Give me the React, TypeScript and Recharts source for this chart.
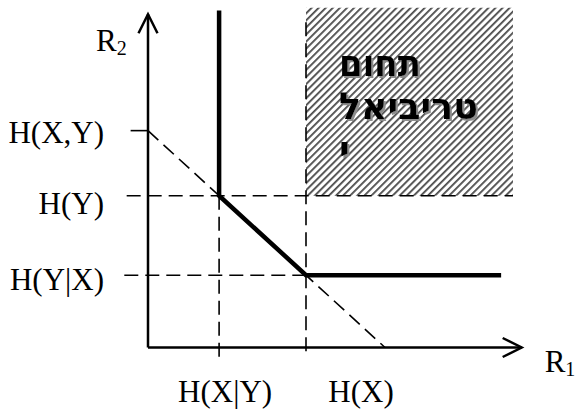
import { LineChart, Line, XAxis, YAxis, ReferenceLine, ReferenceArea } from 'recharts';

// Slepian-Wolf style rate region, values in bits
const H_X_given_Y = 0.9;
const H_X = 2.0;
const H_Y_given_X = 1.0;
const H_Y = 2.1;
const H_XY = 3.0;

const xTicks = [H_X_given_Y, H_X];
const xTickLabels = ['H(X|Y)', 'H(X)'];
const yTicks = [H_Y_given_X, H_Y, H_XY];
const yTickLabels = ['H(Y|X)', 'H(Y)', 'H(X,Y)'];

// axis extents (arrow tips)
const r1Max = 4.73;
const r2Max = 4.61;

// achievable-region corner path
const boundary = [
  { r1: H_X_given_Y, r2: 4.66 },
  { r1: H_X_given_Y, r2: H_Y },
  { r1: H_X, r2: H_Y_given_X },
  { r1: 4.47, r2: H_Y_given_X },
];

// trivial region (both rates above marginal entropies)
const trivialRight = 4.62;
const trivialTop = 4.7;
const trivialText = ['תחום', 'טריביאל', 'י'];

const SERIF = '"Liberation Serif", "Times New Roman", serif';
const DASH = '14 7';

function YTick({ x, y, payload }: any) {
  const i = yTicks.indexOf(payload.value);
  const nudge = [15, 18, 12][i];
  return (
    <text x={x} y={y + nudge} textAnchor="end" fontFamily={SERIF} fontSize={31} fill="#000">
      {yTickLabels[i]}
    </text>
  );
}

function XTick({ x, y, payload }: any) {
  const i = xTicks.indexOf(payload.value);
  const dx = [6, 55][i];
  return (
    <text x={x + dx} y={y + 54.5} textAnchor="middle" fontFamily={SERIF} fontSize={31} fill="#000">
      {xTickLabels[i]}
    </text>
  );
}

function AxisName({ viewBox, name, sub, dx, dy }: any) {
  return (
    <text x={viewBox.x + viewBox.width + dx} y={viewBox.y + dy} fontFamily={SERIF} fontSize={31} fill="#000">
      {name}
      <tspan fontSize={20} dy={4}>
        {sub}
      </tspan>
    </text>
  );
}

// line widths of the Hebrew caption, last line is a single letter
const captionWidths = [82, 139, undefined];

function TrivialLabel({ viewBox }: any) {
  const x = viewBox.x + 33;
  return (
    <g
      fontFamily='"DejaVu Sans", sans-serif'
      fontWeight="bold"
      fontSize={37}
      fill="#000"
      filter="url(#captionShadow)"
    >
      {trivialText.map((t, i) => (
        <text
          key={i}
          x={x}
          y={viewBox.y + 68 + 43 * i}
          textLength={captionWidths[i]}
          lengthAdjust={captionWidths[i] ? 'spacingAndGlyphs' : undefined}
        >
          {t}
        </text>
      ))}
    </g>
  );
}

export default function App() {
  return (
    <div style={{ position: 'absolute', left: 0, top: 0, background: '#fff' }}>
      <LineChart
        width={575}
        height={416}
        data={boundary}
        margin={{ top: 0.5, right: 32, bottom: 38.5, left: 48 }}
      >
        <defs>
          <marker
            id="openArrow"
            viewBox="-24 -14 28 28"
            refX={0}
            refY={0}
            markerWidth={28}
            markerHeight={28}
            markerUnits="userSpaceOnUse"
            orient="auto"
          >
            <path d="M-19,-9.5 L0,0 L-19,9.5" fill="none" stroke="#000" strokeWidth={2.5} />
          </marker>
          <pattern id="hatch" width={5} height={5} patternUnits="userSpaceOnUse" patternTransform="rotate(45)">
            <rect width={5} height={5} fill="#fff" />
            <rect width={1.8} height={5} fill="#4a4a4a" />
          </pattern>
          <filter id="captionShadow" x="-10%" y="-10%" width="130%" height="130%">
            <feDropShadow dx={2} dy={2} stdDeviation={0.4} floodColor="#8c8c8c" floodOpacity={1} />
          </filter>
        </defs>
        <XAxis
          dataKey="r1"
          type="number"
          domain={[0, 5]}
          ticks={xTicks}
          axisLine={false}
          tickLine={false}
          tickSize={0}
          tickMargin={0}
          height={30}
          tick={<XTick />}
        />
        <YAxis
          dataKey="r2"
          type="number"
          domain={[0, 4.8]}
          ticks={yTicks}
          axisLine={false}
          tickLine={false}
          tickSize={0}
          tickMargin={44}
          width={100}
          tick={<YTick />}
        />

        <ReferenceArea
          x1={H_X}
          x2={trivialRight}
          y1={H_Y}
          y2={trivialTop}
          fill="url(#hatch)"
          fillOpacity={1}
          stroke="none"
          ifOverflow="visible"
          label={<TrivialLabel />}
        />

        {/* guide lines */}
        <ReferenceLine
          segment={[{ x: -0.27, y: H_Y }, { x: trivialRight, y: H_Y }]}
          stroke="#000"
          strokeWidth={1.6}
          strokeDasharray={DASH}
          ifOverflow="visible"
        />
        <ReferenceLine
          segment={[{ x: -0.3, y: H_Y_given_X }, { x: H_X, y: H_Y_given_X }]}
          stroke="#000"
          strokeWidth={1.6}
          strokeDasharray={DASH}
          ifOverflow="visible"
        />
        <ReferenceLine
          segment={[{ x: H_X_given_Y, y: H_Y }, { x: H_X_given_Y, y: -0.14 }]}
          stroke="#000"
          strokeWidth={1.6}
          strokeDasharray={DASH}
          ifOverflow="visible"
        />
        <ReferenceLine
          segment={[{ x: H_X, y: 4.5 }, { x: H_X, y: -0.14 }]}
          stroke="#000"
          strokeWidth={1.6}
          strokeDasharray={DASH}
          ifOverflow="visible"
        />
        <ReferenceLine
          segment={[{ x: 0, y: H_XY }, { x: H_XY, y: 0 }]}
          stroke="#000"
          strokeWidth={1.6}
          strokeDasharray={DASH}
          ifOverflow="visible"
        />
        <ReferenceLine
          segment={[{ x: -0.22, y: H_XY }, { x: 0, y: H_XY }]}
          stroke="#000"
          strokeWidth={1.6}
          ifOverflow="visible"
        />

        {/* axes with open arrowheads */}
        <ReferenceLine
          segment={[{ x: 0, y: 0 }, { x: r1Max, y: 0 }]}
          stroke="#000"
          strokeWidth={2.5}
          markerEnd="url(#openArrow)"
          ifOverflow="visible"
          label={<AxisName name="R" sub="1" dx={23} dy={24.5} />}
        />
        <ReferenceLine
          segment={[{ x: 0, y: 0 }, { x: 0, y: r2Max }]}
          stroke="#000"
          strokeWidth={2.5}
          markerEnd="url(#openArrow)"
          ifOverflow="visible"
          label={<AxisName name="R" sub="2" dx={-52} dy={36.5} />}
        />

        <Line
          dataKey="r2"
          type="linear"
          stroke="#000"
          strokeWidth={4.5}
          dot={false}
          activeDot={false}
          isAnimationActive={false}
        />
      </LineChart>
    </div>
  );
}
